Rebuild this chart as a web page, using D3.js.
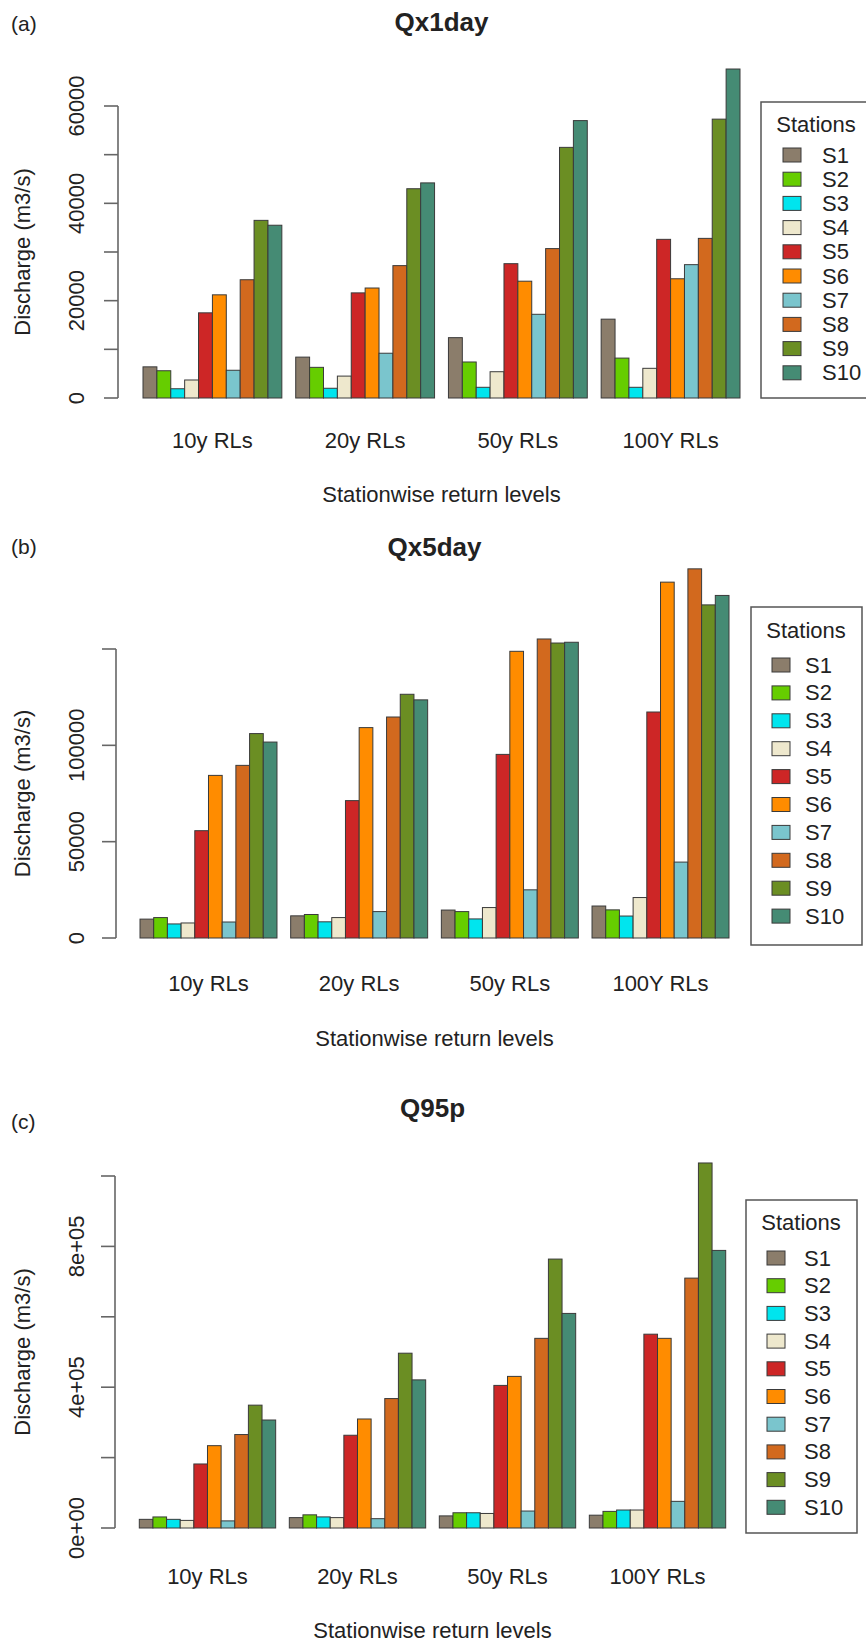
<!DOCTYPE html>
<html>
<head>
<meta charset="utf-8">
<script src="https://cdn.jsdelivr.net/npm/d3@7"></script>
<style>
  html, body { margin: 0; padding: 0; background: #ffffff; }
  svg { display: block; }
  text { font-family: "Liberation Sans", Arial, Helvetica, sans-serif; fill: #222; }
</style>
</head>
<body>
<svg id="fig" width="866" height="1641"></svg>
<script>
// Return-level groups and stations
const returnLevels = ["10y RLs", "20y RLs", "50y RLs", "100Y RLs"];
const stations = ["S1", "S2", "S3", "S4", "S5", "S6", "S7", "S8", "S9", "S10"];
const stationColors = ["#8B7D6B", "#66CD00", "#00E5EE", "#EEE8CD", "#CD2626",
                       "#FF8C00", "#7AC5CD", "#D2691E", "#6B8E23", "#458B74"];

// Discharge (m3/s) per station, one value per return level
const qx1day = [
  [6400, 8400, 12400, 16200],
  [5600, 6300, 7400, 8200],
  [1900, 2000, 2200, 2200],
  [3700, 4500, 5400, 6100],
  [17500, 21600, 27600, 32600],
  [21200, 22600, 24000, 24500],
  [5700, 9200, 17200, 27400],
  [24300, 27200, 30700, 32800],
  [36500, 43000, 51500, 57300],
  [35500, 44200, 57000, 67600]
];
const qx5day = [
  [9800, 11500, 14500, 16600],
  [10600, 12200, 13700, 14600],
  [7300, 8400, 9900, 11400],
  [7800, 10600, 15800, 21000],
  [55700, 71300, 95300, 117300],
  [84400, 109200, 148800, 184700],
  [8300, 13700, 25000, 39400],
  [89600, 114700, 155200, 191600],
  [106100, 126500, 153100, 172900],
  [101700, 123600, 153500, 177800]
];
const q95p = [
  [24600, 29500, 34400, 36400],
  [31400, 37400, 43300, 47200],
  [24600, 31500, 43300, 51100],
  [21600, 29500, 41300, 51100],
  [181900, 263500, 405100, 550600],
  [233900, 309700, 430700, 538800],
  [20200, 26500, 48200, 75700],
  [265500, 367700, 538800, 709900],
  [349000, 496600, 764000, 1037000],
  [306800, 420800, 609600, 788600]
];

// Axis ticks and the subset that carries a label
const ticksA = [0, 10000, 20000, 30000, 40000, 50000, 60000];
const labelledA = [0, 20000, 40000, 60000];
const ticksB = [0, 50000, 100000, 150000];
const labelledB = [0, 50000, 100000];
const ticksC = [0, 200000, 400000, 600000, 800000, 1000000];
const labelledC = [0, 400000, 800000];

const fmtPlain = d => String(d);
const fmtSci = d => {
  if (d === 0) return "0e+00";
  const e = Math.floor(Math.log10(d));
  const m = Math.round(d / Math.pow(10, e));
  return m + "e+" + String(e).padStart(2, "0");
};

const panels = [
  { tag: "(a)", title: "Qx1day", data: qx1day, ticks: ticksA, labelled: labelledA, fmt: fmtPlain,
    tagY: 23, titleY: 22, y0: 398, yTopPx: 106, x0: 143, x1: 740, axisX: 118,
    catY: 440, xTitleY: 494,
    legend: { x: 761, y: 102, w: 130, h: 296, headX: 816, headY: 124, firstY: 155, step: 24.2, swX: 783, textX: 822 } },
  { tag: "(b)", title: "Qx5day", data: qx5day, ticks: ticksB, labelled: labelledB, fmt: fmtPlain,
    tagY: 546, titleY: 547, y0: 938, yTopPx: 649, x0: 140, x1: 729, axisX: 116,
    catY: 983, xTitleY: 1038,
    legend: { x: 751, y: 607, w: 111, h: 338, headX: 806, headY: 630, firstY: 665, step: 27.9, swX: 772, textX: 805 } },
  { tag: "(c)", title: "Q95p", data: q95p, ticks: ticksC, labelled: labelledC, fmt: fmtSci,
    tagY: 1121, titleY: 1108, y0: 1528, yTopPx: 1176, x0: 139.3, x1: 725.7, axisX: 115,
    catY: 1576, xTitleY: 1630,
    legend: { x: 746, y: 1200, w: 111, h: 333, headX: 801, headY: 1222, firstY: 1258, step: 27.7, swX: 767, textX: 804 } }
];

const svg = d3.select("#fig");

panels.forEach(p => {
  const g = svg.append("g");
  const yMaxTick = p.ticks[p.ticks.length - 1];
  const y = d3.scaleLinear().domain([0, yMaxTick]).range([p.y0, p.yTopPx]);

  // grouped bars with one bar-width gap between groups
  const x = d3.scaleBand().domain(returnLevels).range([p.x0, p.x1])
    .paddingInner(1 / 11).paddingOuter(0);
  const xs = d3.scaleBand().domain(stations).range([0, x.bandwidth()]).padding(0);

  // panel tag and title
  g.append("text").attr("x", 11).attr("y", p.tagY).attr("dominant-baseline", "central")
    .attr("font-size", 21).text(p.tag);
  g.append("text").attr("x", (p.x0 + p.x1) / 2).attr("y", p.titleY)
    .attr("dominant-baseline", "central").attr("text-anchor", "middle")
    .attr("font-size", 26).attr("font-weight", "bold").text(p.title);

  // bars
  const rows = [];
  returnLevels.forEach((rl, j) => {
    stations.forEach((s, i) => rows.push({ rl, s, i, v: p.data[i][j] }));
  });
  g.append("g").selectAll("rect").data(rows).join("rect")
    .attr("x", d => x(d.rl) + xs(d.s))
    .attr("y", d => y(d.v))
    .attr("width", xs.bandwidth())
    .attr("height", d => y(0) - y(d.v))
    .attr("fill", d => stationColors[d.i])
    .attr("stroke", "#3a3a3a").attr("stroke-width", 1);

  // y axis (line spans first to last tick, labels parallel to the axis)
  const ax = g.append("g").attr("stroke", "#666").attr("stroke-width", 1.6);
  ax.append("line").attr("x1", p.axisX).attr("x2", p.axisX)
    .attr("y1", y(0)).attr("y2", y(yMaxTick));
  ax.selectAll("line.tk").data(p.ticks).join("line").attr("class", "tk")
    .attr("x1", p.axisX - 14).attr("x2", p.axisX)
    .attr("y1", d => y(d)).attr("y2", d => y(d));
  g.selectAll("text.tl").data(p.labelled).join("text").attr("class", "tl")
    .attr("transform", d => `translate(76,${y(d)}) rotate(-90)`)
    .attr("text-anchor", "middle").attr("dominant-baseline", "central")
    .attr("font-size", 22).text(p.fmt);
  g.append("text")
    .attr("transform", `translate(22,${(y(0) + y(yMaxTick)) / 2}) rotate(-90)`)
    .attr("text-anchor", "middle").attr("dominant-baseline", "central")
    .attr("font-size", 22).text("Discharge (m3/s)");

  // category labels and x title
  g.selectAll("text.cat").data(returnLevels).join("text").attr("class", "cat")
    .attr("x", d => x(d) + x.bandwidth() / 2).attr("y", p.catY)
    .attr("text-anchor", "middle").attr("dominant-baseline", "central")
    .attr("font-size", 22).text(d => d);
  g.append("text").attr("x", (p.x0 + p.x1) / 2).attr("y", p.xTitleY)
    .attr("text-anchor", "middle").attr("dominant-baseline", "central")
    .attr("font-size", 22).text("Stationwise return levels");

  // legend
  const L = p.legend;
  const lg = g.append("g");
  lg.append("rect").attr("x", L.x).attr("y", L.y).attr("width", L.w).attr("height", L.h)
    .attr("fill", "none").attr("stroke", "#555").attr("stroke-width", 1.5);
  lg.append("text").attr("x", L.headX).attr("y", L.headY)
    .attr("text-anchor", "middle").attr("dominant-baseline", "central")
    .attr("font-size", 22).text("Stations");
  const items = lg.selectAll("g.it").data(stations).join("g").attr("class", "it")
    .attr("transform", (d, i) => `translate(0,${L.firstY + i * L.step})`);
  items.append("rect").attr("x", L.swX).attr("y", -7).attr("width", 18).attr("height", 14)
    .attr("fill", (d, i) => stationColors[i]).attr("stroke", "#3a3a3a").attr("stroke-width", 1);
  items.append("text").attr("x", L.textX).attr("y", 0).attr("dominant-baseline", "central")
    .attr("font-size", 22).text(d => d);
});
</script>
</body>
</html>
